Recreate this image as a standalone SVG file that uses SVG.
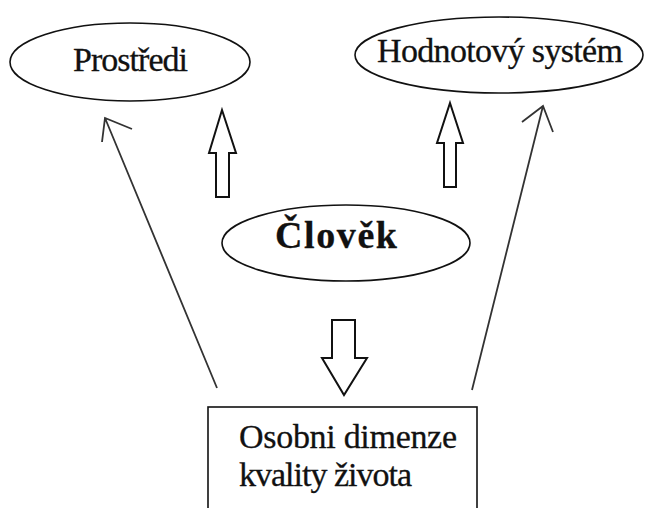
<svg xmlns="http://www.w3.org/2000/svg" width="646" height="508" viewBox="0 0 646 508">
<style>
.shape{fill:#fff;stroke:#111;stroke-width:1.6}
.blk{fill:#fff;stroke:#111;stroke-width:2}
.thin{fill:none;stroke:#333;stroke-width:1.8}
.t{font-family:"Liberation Serif","Times New Roman",serif;font-size:34px;fill:#111;stroke:#111;stroke-width:0.3}
.b{font-weight:bold;font-size:38px}
</style>
<rect width="646" height="508" fill="#fff"/>
<g id="prostredi">
<ellipse class="shape" cx="130" cy="62" rx="120" ry="39"/>
<text class="t" x="73" y="71" textLength="115">Prostředi</text>
</g>
<g id="hodnotovy-system">
<ellipse class="shape" cx="499" cy="55" rx="144" ry="38"/>
<text class="t" x="377" y="62" textLength="246">Hodnotový systém</text>
</g>
<g id="clovek">
<ellipse class="shape" cx="346" cy="243" rx="124" ry="38"/>
<text class="t b" x="275" y="248" textLength="122">Člověk</text>
</g>
<g id="osobni-dimenze">
<rect class="shape" x="208" y="407" width="269" height="110"/>
<text class="t" x="239" y="448" textLength="218">Osobni dimenze</text>
<text class="t" x="239" y="486" textLength="173">kvality života</text>
</g>
<g id="connectors">
<polygon class="blk" points="222,110 236,153 229,153 229,197 216,197 216,153 209,153"/>
<polygon class="blk" points="450,103 463,143 456,143 456,187 444,187 444,143 437,143"/>
<polygon class="blk" points="332,320 355,320 355,358 367,358 344,395 322,358 332,358"/>
<path class="thin" d="M217,388 L105,118 M132,129 L105,118 L102,142"/>
<path class="thin" d="M472,390 L543,106 M522,122 L543,106 L553,132"/>
</g>
</svg>
